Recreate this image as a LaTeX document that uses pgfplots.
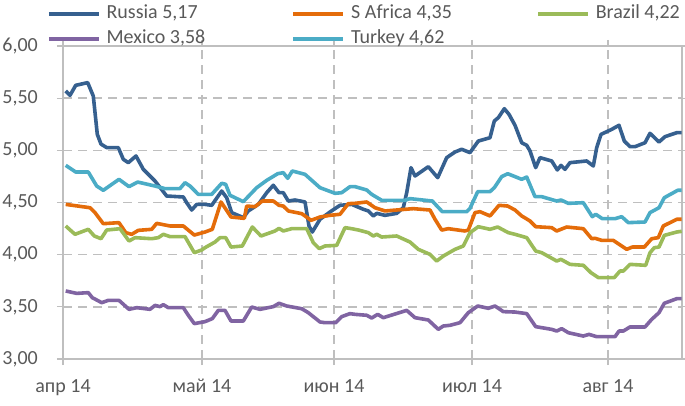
\documentclass[border=0pt]{standalone}
\usepackage{pgfplots}
\pgfplotsset{compat=1.18}
\usepackage{fontspec}
\setmainfont{Carlito}
\definecolor{cru}{HTML}{36608F}
\definecolor{csa}{HTML}{E46C0A}
\definecolor{cbr}{HTML}{9BBB59}
\definecolor{cmx}{HTML}{8064A2}
\definecolor{ctr}{HTML}{4BACC6}
\definecolor{ctxt}{HTML}{595959}
\definecolor{cgrid}{HTML}{BFBFBF}
\begin{document}
\begin{tikzpicture}
\useasboundingbox (-63bp,-47bp) rectangle (622bp,359bp);
\begin{axis}[
  at={(0,0)}, anchor=south west,
  scale only axis, width=619bp, height=313bp,
  xmin=0, xmax=619, ymin=3, ymax=6,
  xtick={0,139,271,409,545},
  xticklabels={апр 14, май 14, июн 14, июл 14, авг 14},
  ytick={3,3.5,4,4.5,5,5.5,6},
  font=\fontsize{20bp}{24bp}\selectfont,
  /pgf/number format/assume math mode=true,
  yticklabel={\pgfmathprintnumber[fixed,fixed zerofill,precision=2,use comma]{\tick}},
  ticklabel style={text=ctxt},
  yticklabel style={inner sep=0pt, anchor=east, xshift=-19bp},
  xticklabel style={inner sep=0pt, anchor=north, yshift=-14bp},
  tick align=outside, major tick length=6bp,
  tick style={cgrid, line width=1.2bp},
  axis line style={cgrid, line width=1.2bp},
  grid=major,
  major grid style={cgrid, line width=1.4bp, dash pattern=on 9bp off 6bp},
  line join=round,
  every axis plot/.append style={line width=3.6bp},
  legend columns=3,
  legend cell align=left,
  legend image code/.code={\draw[#1] (0bp,0bp) -- (50bp,0bp);},
  legend style={at={(-0.0258,1.1326)}, anchor=north west, draw=none, fill=none,
    inner sep=0pt, outer sep=0pt, text=ctxt,
    font=\fontsize{20bp}{24bp}\selectfont,
    nodes={inner sep=0pt, text height=14bp, text depth=5bp},
    row sep=6bp,
    /tikz/every odd column/.append style={column sep=6bp}},
]
\addplot[cru] table {
2.7 5.569
7 5.527
12.7 5.623
24.7 5.649
30.3 5.52
34.3 5.153
38 5.06
43.7 5.026
55.3 5.026
60.3 4.914
65.3 4.882
73 4.946
80.3 4.818
88.7 4.738
92 4.706
103.7 4.562
120.3 4.553
123.7 4.498
128.7 4.428
133.7 4.482
142 4.482
148.7 4.473
158.7 4.61
163.7 4.546
168.7 4.403
180.3 4.355
185.3 4.419
195.3 4.482
203.7 4.594
210.3 4.665
216 4.594
220.3 4.594
225.3 4.514
232 4.524
242 4.505
246 4.275
249.3 4.217
257 4.339
267 4.409
277 4.473
288.7 4.482
300.3 4.435
305.3 4.419
310.3 4.371
313.7 4.396
322 4.377
333.7 4.396
340.3 4.45
343.7 4.594
348 4.834
352 4.754
365.3 4.843
374.7 4.738
383.7 4.93
392 4.984
398.7 5.01
407 4.978
415.3 5.089
427 5.121
431.3 5.281
435.3 5.313
441.3 5.399
446 5.345
452 5.24
458.7 5.073
463.7 5.048
467 4.994
472.7 4.834
477 4.93
488.7 4.898
494.3 4.812
498 4.856
502 4.818
507 4.882
523.7 4.898
530.3 4.85
533.7 5.026
538 5.153
548.7 5.201
556 5.24
561.3 5.089
567 5.035
572 5.035
582 5.073
587 5.163
596 5.08
602 5.131
613.7 5.169
618.7 5.169
};
\addlegendentry{\makebox[185bp][l]{Russia 5,17}}
\addplot[csa] table {
2.7 4.482
27 4.45
32 4.403
40.3 4.297
56 4.307
62.7 4.211
68.7 4.195
75.3 4.233
88.7 4.243
93.7 4.3
107 4.275
120.3 4.275
131.3 4.188
142 4.217
149.3 4.243
158 4.505
168 4.361
181.3 4.348
183.7 4.466
192 4.46
199.3 4.514
210.3 4.514
216 4.473
220.3 4.466
225.3 4.419
238.7 4.393
242 4.371
248 4.329
257 4.361
267 4.377
277 4.387
285.3 4.489
292 4.492
303.7 4.505
312 4.45
322 4.419
350.3 4.441
367 4.428
372 4.339
378.7 4.236
385.3 4.249
402 4.227
405.3 4.236
412 4.403
417 4.412
427 4.371
436 4.473
444.7 4.466
452 4.428
458.7 4.371
467 4.323
472.7 4.268
488.7 4.259
493.7 4.227
503.7 4.265
520.3 4.249
528.7 4.153
532 4.157
538.7 4.137
550.3 4.137
563.7 4.051
569.3 4.073
581.3 4.073
588.7 4.153
595.3 4.163
600.3 4.275
613.7 4.339
618.7 4.339
};
\addlegendentry{\makebox[185bp][l]{S Africa 4,35}}
\addplot[cbr] table {
2.7 4.275
12 4.195
25.3 4.243
31.3 4.179
38 4.153
43.7 4.236
57 4.249
66 4.131
72 4.163
88.7 4.153
95.3 4.163
100.3 4.195
107 4.173
122 4.173
131.3 4.019
138.7 4.045
142 4.067
152 4.121
157 4.163
162.7 4.163
168 4.073
179.3 4.083
189.3 4.265
198 4.179
212 4.227
216 4.252
220.3 4.227
228.7 4.249
243.7 4.249
250.3 4.115
256.3 4.058
262 4.083
273.7 4.089
282 4.259
288.7 4.249
296 4.235
305.3 4.211
310.3 4.179
313.7 4.195
318.7 4.169
333.7 4.179
347 4.121
355.3 4.051
367 4.003
373.7 3.939
380.3 3.987
392 4.051
400.3 4.083
407 4.211
415.3 4.268
427 4.243
434.7 4.265
445.3 4.211
452 4.195
463.7 4.163
472.7 4.035
478.7 4.019
493.7 3.939
498 3.955
507 3.907
520.3 3.898
528 3.827
535.3 3.78
551.3 3.78
557 3.843
560.3 3.843
567 3.907
582.7 3.898
587 4.019
591.3 4.067
596 4.073
601.3 4.185
613.7 4.217
618.7 4.224
};
\addlegendentry{Brazil 4,22}
\addplot[cmx] table {
2.7 3.652
13.7 3.629
25.3 3.636
29.3 3.588
38.7 3.54
45.3 3.562
56 3.562
66 3.476
73.7 3.492
87 3.476
92 3.514
97 3.502
100.3 3.521
105.3 3.492
120.3 3.492
125.3 3.419
131.3 3.339
142 3.358
149.3 3.387
155.3 3.466
162 3.466
168 3.364
180.3 3.364
188.7 3.498
197 3.476
210.3 3.502
216 3.534
223.7 3.508
238.7 3.482
245.3 3.444
257 3.355
262 3.348
272.7 3.348
278.7 3.406
287 3.435
292 3.428
303.7 3.419
308.7 3.393
314.7 3.428
320.3 3.396
343.7 3.466
352 3.396
365.3 3.374
375.3 3.284
380.3 3.316
387 3.323
397 3.348
405.3 3.444
414.7 3.508
425.3 3.486
432 3.508
440.3 3.454
452 3.45
463.7 3.435
472.7 3.31
488.7 3.284
493.7 3.268
498.7 3.291
505.3 3.252
520.3 3.22
526 3.236
533.7 3.214
552 3.214
556 3.268
560.3 3.268
567 3.307
582 3.307
588.7 3.38
596 3.444
601.3 3.534
613.7 3.578
618.7 3.578
};
\addlegendentry{\makebox[185bp][l]{Mexico 3,58}}
\addplot[ctr] table {
2.7 4.856
12.7 4.792
25.3 4.792
33.7 4.658
40.3 4.617
56 4.722
66 4.652
74.7 4.696
92 4.658
102 4.633
117 4.633
122 4.69
127 4.658
135.3 4.578
148.7 4.578
158.7 4.684
162.7 4.674
167 4.569
180.3 4.508
193.7 4.642
203.7 4.712
214.7 4.776
220.3 4.786
224.7 4.732
229.3 4.802
242 4.77
257 4.642
272 4.588
278.7 4.594
287 4.652
292 4.652
303.7 4.62
308.7 4.578
318.7 4.521
342 4.521
347 4.537
369.3 4.514
379.3 4.412
403.7 4.412
407 4.444
414.7 4.604
427 4.604
431.3 4.642
438.7 4.748
444.7 4.776
452 4.748
458.7 4.722
463.7 4.744
472 4.556
478.7 4.556
493.7 4.514
498 4.524
505.3 4.492
520.3 4.498
529.3 4.364
532.7 4.387
539.3 4.345
552 4.345
558.7 4.364
565.3 4.307
582 4.313
587 4.403
596 4.45
601.3 4.546
614.7 4.617
618.7 4.617
};
\addlegendentry{\makebox[185bp][l]{Turkey 4,62}}
\end{axis}
\end{tikzpicture}
\end{document}
